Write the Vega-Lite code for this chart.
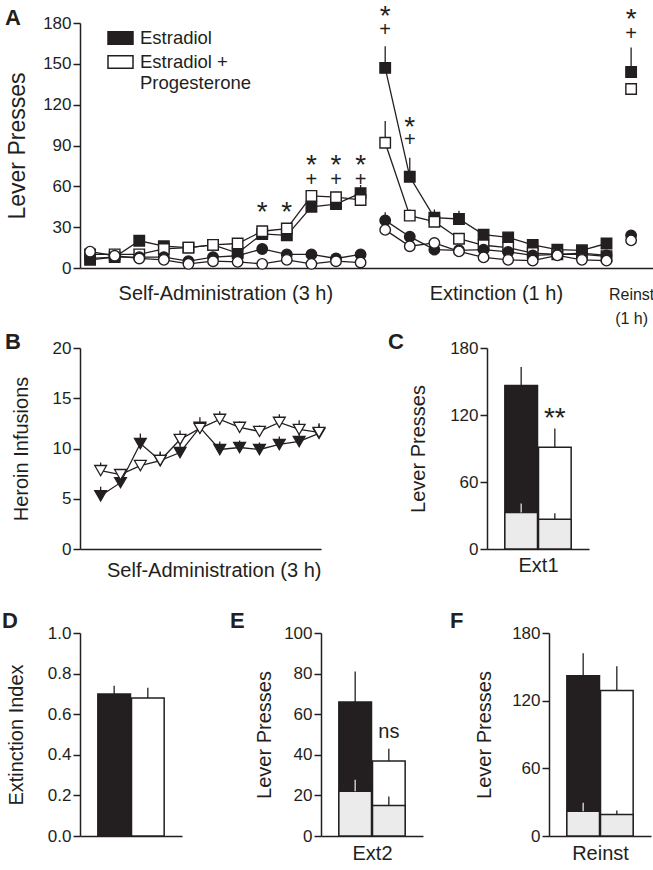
{
  "$schema": "https://vega.github.io/schema/vega-lite/v6.json",
  "padding": {"left": 2, "top": 3, "right": 0, "bottom": 0},
  "config": {
    "view": {"stroke": null},
    "font": "Liberation Sans",
    "axis": {"labelFont": "Liberation Sans", "labelFontSize": 17, "labelColor": "#231f20", "titleFont": "Liberation Sans", "titleFontSize": 20, "titleFontWeight": "normal", "titleColor": "#231f20", "domainColor": "#231f20", "domainWidth": 1.5, "tickColor": "#231f20", "tickWidth": 1.5, "tickSize": 7, "grid": false, "labelPadding": 2},
    "title": {"font": "Liberation Sans", "fontSize": 22, "fontWeight": "bold", "anchor": "start", "frame": "group", "baseline": "alphabetic", "color": "#231f20"},
    "legend": {"labelFont": "Liberation Sans"}
  },
  "datasets": {
    "a": [
      {"s":1,"g":"E","l":"a","p":"SA","v":6,"hi":7},{"s":2,"g":"E","l":"a","p":"SA","v":8,"hi":9},{"s":3,"g":"E","l":"a","p":"SA","v":20,"hi":23},{"s":4,"g":"E","l":"a","p":"SA","v":16,"hi":18},{"s":5,"g":"E","l":"a","p":"SA","v":15,"hi":17},{"s":6,"g":"E","l":"a","p":"SA","v":17,"hi":19},{"s":7,"g":"E","l":"a","p":"SA","v":11,"hi":14},{"s":8,"g":"E","l":"a","p":"SA","v":25,"hi":28},{"s":9,"g":"E","l":"a","p":"SA","v":24,"hi":27},{"s":10,"g":"E","l":"a","p":"SA","v":45,"hi":51},{"s":11,"g":"E","l":"a","p":"SA","v":47,"hi":52},{"s":12,"g":"E","l":"a","p":"SA","v":55,"hi":61},
      {"s":13,"g":"E","l":"a","p":"X","v":147,"hi":163},{"s":14,"g":"E","l":"a","p":"X","v":67,"hi":81},{"s":15,"g":"E","l":"a","p":"X","v":37,"hi":43},{"s":16,"g":"E","l":"a","p":"X","v":36,"hi":42},{"s":17,"g":"E","l":"a","p":"X","v":24.5,"hi":27},{"s":18,"g":"E","l":"a","p":"X","v":22.5,"hi":25},{"s":19,"g":"E","l":"a","p":"X","v":17,"hi":19},{"s":20,"g":"E","l":"a","p":"X","v":13.5,"hi":15.5},{"s":21,"g":"E","l":"a","p":"X","v":13,"hi":15},{"s":22,"g":"E","l":"a","p":"X","v":18,"hi":21},{"s":23,"g":"E","l":"a","p":"R","v":144,"hi":162},
      {"s":1,"g":"EP","l":"a","p":"SA","v":10,"hi":11},{"s":2,"g":"EP","l":"a","p":"SA","v":10,"hi":11},{"s":3,"g":"EP","l":"a","p":"SA","v":10,"hi":12},{"s":4,"g":"EP","l":"a","p":"SA","v":14,"hi":16},{"s":5,"g":"EP","l":"a","p":"SA","v":15,"hi":17},{"s":6,"g":"EP","l":"a","p":"SA","v":17,"hi":19},{"s":7,"g":"EP","l":"a","p":"SA","v":18,"hi":21},{"s":8,"g":"EP","l":"a","p":"SA","v":27,"hi":30},{"s":9,"g":"EP","l":"a","p":"SA","v":29,"hi":32},{"s":10,"g":"EP","l":"a","p":"SA","v":53,"hi":57},{"s":11,"g":"EP","l":"a","p":"SA","v":52,"hi":56},{"s":12,"g":"EP","l":"a","p":"SA","v":50,"hi":54},
      {"s":13,"g":"EP","l":"a","p":"X","v":92,"hi":108},{"s":14,"g":"EP","l":"a","p":"X","v":38.5,"hi":43},{"s":15,"g":"EP","l":"a","p":"X","v":34,"hi":37},{"s":16,"g":"EP","l":"a","p":"X","v":21.5,"hi":24},{"s":17,"g":"EP","l":"a","p":"X","v":16.7,"hi":19},{"s":18,"g":"EP","l":"a","p":"X","v":15,"hi":17},{"s":19,"g":"EP","l":"a","p":"X","v":11,"hi":13},{"s":20,"g":"EP","l":"a","p":"X","v":10,"hi":11.5},{"s":21,"g":"EP","l":"a","p":"X","v":10,"hi":11.5},{"s":22,"g":"EP","l":"a","p":"X","v":8.6,"hi":10},{"s":23,"g":"EP","l":"a","p":"R","v":131.5,"hi":134},
      {"s":1,"g":"E","l":"i","p":"SA","v":7,"hi":8},{"s":2,"g":"E","l":"i","p":"SA","v":8,"hi":9},{"s":3,"g":"E","l":"i","p":"SA","v":8,"hi":9},{"s":4,"g":"E","l":"i","p":"SA","v":8,"hi":9},{"s":5,"g":"E","l":"i","p":"SA","v":5,"hi":6},{"s":6,"g":"E","l":"i","p":"SA","v":8,"hi":9},{"s":7,"g":"E","l":"i","p":"SA","v":9,"hi":10},{"s":8,"g":"E","l":"i","p":"SA","v":14,"hi":18},{"s":9,"g":"E","l":"i","p":"SA","v":10,"hi":11},{"s":10,"g":"E","l":"i","p":"SA","v":10,"hi":11},{"s":11,"g":"E","l":"i","p":"SA","v":7,"hi":8},{"s":12,"g":"E","l":"i","p":"SA","v":10,"hi":11},
      {"s":13,"g":"E","l":"i","p":"X","v":35,"hi":41},{"s":14,"g":"E","l":"i","p":"X","v":23,"hi":26},{"s":15,"g":"E","l":"i","p":"X","v":13.5,"hi":15},{"s":16,"g":"E","l":"i","p":"X","v":13,"hi":14.5},{"s":17,"g":"E","l":"i","p":"X","v":13.5,"hi":15},{"s":18,"g":"E","l":"i","p":"X","v":11.8,"hi":13},{"s":19,"g":"E","l":"i","p":"X","v":9.3,"hi":10.5},{"s":20,"g":"E","l":"i","p":"X","v":10,"hi":11},{"s":21,"g":"E","l":"i","p":"X","v":11,"hi":12},{"s":22,"g":"E","l":"i","p":"X","v":9.3,"hi":10.5},{"s":23,"g":"E","l":"i","p":"R","v":24,"hi":27},
      {"s":1,"g":"EP","l":"i","p":"SA","v":12,"hi":13},{"s":2,"g":"EP","l":"i","p":"SA","v":9,"hi":10},{"s":3,"g":"EP","l":"i","p":"SA","v":7,"hi":8},{"s":4,"g":"EP","l":"i","p":"SA","v":6,"hi":7},{"s":5,"g":"EP","l":"i","p":"SA","v":3,"hi":4},{"s":6,"g":"EP","l":"i","p":"SA","v":5,"hi":6},{"s":7,"g":"EP","l":"i","p":"SA","v":4.5,"hi":5.5},{"s":8,"g":"EP","l":"i","p":"SA","v":3,"hi":4},{"s":9,"g":"EP","l":"i","p":"SA","v":6,"hi":7},{"s":10,"g":"EP","l":"i","p":"SA","v":3,"hi":4},{"s":11,"g":"EP","l":"i","p":"SA","v":5,"hi":6},{"s":12,"g":"EP","l":"i","p":"SA","v":4,"hi":5},
      {"s":13,"g":"EP","l":"i","p":"X","v":28,"hi":30},{"s":14,"g":"EP","l":"i","p":"X","v":16,"hi":17},{"s":15,"g":"EP","l":"i","p":"X","v":18.4,"hi":19.5},{"s":16,"g":"EP","l":"i","p":"X","v":12.2,"hi":13},{"s":17,"g":"EP","l":"i","p":"X","v":7.8,"hi":8.5},{"s":18,"g":"EP","l":"i","p":"X","v":6,"hi":7},{"s":19,"g":"EP","l":"i","p":"X","v":5.4,"hi":6},{"s":20,"g":"EP","l":"i","p":"X","v":9.3,"hi":10},{"s":21,"g":"EP","l":"i","p":"X","v":6,"hi":7},{"s":22,"g":"EP","l":"i","p":"X","v":5.4,"hi":6},{"s":23,"g":"EP","l":"i","p":"R","v":20.3,"hi":21}
    ],
    "ann": [
      {"s":8,"v":45,"t":"*"},{"s":9,"v":45,"t":"*"},
      {"s":10,"v":80,"t":"*"},{"s":10,"v":67,"t":"+"},
      {"s":11,"v":80,"t":"*"},{"s":11,"v":67,"t":"+"},
      {"s":12,"v":80,"t":"*"},{"s":12,"v":67,"t":"+"},
      {"s":13,"v":189,"t":"*"},{"s":13,"v":177,"t":"+"},
      {"s":14,"v":108,"t":"*"},{"s":14,"v":96,"t":"+"},
      {"s":23,"v":187,"t":"*"},{"s":23,"v":174,"t":"+"}
    ],
    "b": [
      {"s":1,"g":"E","v":5.3,"hi":6.2},{"s":2,"g":"E","v":6.6,"hi":7.3},{"s":3,"g":"E","v":10.5,"hi":11.5},{"s":4,"g":"E","v":8.8,"hi":9.7},{"s":5,"g":"E","v":9.6,"hi":10.4},{"s":6,"g":"E","v":12.1,"hi":13.1},{"s":7,"g":"E","v":9.9,"hi":10.7},{"s":8,"g":"E","v":10.1,"hi":10.8},{"s":9,"g":"E","v":9.9,"hi":10.6},{"s":10,"g":"E","v":10.4,"hi":11.2},{"s":11,"g":"E","v":10.7,"hi":11.6},{"s":12,"g":"E","v":11.5,"hi":12.5},
      {"s":1,"g":"EP","v":7.8,"hi":8.6},{"s":2,"g":"EP","v":7.4,"hi":7.9},{"s":3,"g":"EP","v":8.3,"hi":8.8},{"s":4,"g":"EP","v":8.8,"hi":9.6},{"s":5,"g":"EP","v":10.9,"hi":11.8},{"s":6,"g":"EP","v":12.0,"hi":12.6},{"s":7,"g":"EP","v":12.9,"hi":13.7},{"s":8,"g":"EP","v":12.1,"hi":12.7},{"s":9,"g":"EP","v":11.7,"hi":12.3},{"s":10,"g":"EP","v":12.6,"hi":13.4},{"s":11,"g":"EP","v":11.9,"hi":12.8},{"s":12,"g":"EP","v":11.6,"hi":12.4}
    ],
    "barsC": [
      {"g":"E","l":"a","v":146.5,"hi":163},{"g":"EP","l":"a","v":91.2,"hi":107.8},
      {"g":"E","l":"i","v":32.6,"hi":40.8},{"g":"EP","l":"i","v":26.6,"hi":32}
    ],
    "sigC": [{"g":"EP","v":122,"t":"**"}],
    "barsD": [{"g":"E","v":0.70,"hi":0.74},{"g":"EP","v":0.68,"hi":0.73}],
    "barsE": [
      {"g":"E","l":"a","v":66,"hi":81},{"g":"EP","l":"a","v":37,"hi":43},
      {"g":"E","l":"i","v":22,"hi":27.7},{"g":"EP","l":"i","v":15,"hi":19.5}
    ],
    "sigE": [{"g":"EP","v":51,"t":"ns"}],
    "barsF": [
      {"g":"E","l":"a","v":142,"hi":162},{"g":"EP","l":"a","v":129,"hi":150.5},
      {"g":"E","l":"i","v":22,"hi":29.4},{"g":"EP","l":"i","v":19,"hi":22.6}
    ]
  },
  "resolve": {"scale": {"x": "independent", "y": "independent", "fill": "independent", "shape": "independent", "color": "independent"}},
  "spacing": 3,
  "vconcat": [
    {
      "hconcat": [
        {
          "width": 573, "height": 245,
          "title": {"text": "A", "dx": -75, "offset": -27},
          "data": {"name": "a"},
          "encoding": {
            "x": {"field": "s", "type": "quantitative", "scale": {"domain": [0.59, 23.89], "nice": false, "zero": false},
                  "axis": {"title": null, "ticks": false, "values": [6.5, 17.5, 23], "labelExpr": "datum.value == 6.5 ? 'Self-Administration (3 h)' : datum.value == 17.5 ? 'Extinction (1 h)' : ['Reinst', '(1 h)']", "labelOverlap": false, "labelFlush": false, "labelBound": false, "labelLimit": 0, "labelFontSize": {"condition": {"test": "datum.value == 23", "value": 16}, "value": 20}, "labelPadding": 31.5, "labelBaseline": "alphabetic", "labelLineHeight": 24}},
            "y": {"field": "v", "type": "quantitative", "scale": {"domain": [0, 180], "nice": false},
                  "axis": {"title": "Lever Presses", "titleFontSize": 23, "values": [0, 30, 60, 90, 120, 150, 180], "titlePadding": 13}}
          },
          "layer": [
            {"transform": [{"filter": "datum.p != 'R'"}], "mark": {"type": "line", "color": "#231f20", "strokeWidth": 1.3}, "encoding": {"detail": [{"field": "g"}, {"field": "l"}, {"field": "p"}]}},
            {"mark": {"type": "rule", "color": "#231f20", "strokeWidth": 1.3}, "encoding": {"y2": {"field": "hi"}}},
            {"mark": {"type": "point", "filled": true, "stroke": "#231f20", "strokeWidth": 1.4, "size": 110, "opacity": 1},
             "encoding": {
               "shape": {"field": "l", "type": "nominal", "scale": {"domain": ["a", "i"], "range": ["square", "circle"]}, "legend": null},
               "fill": {"field": "g", "type": "nominal", "scale": {"domain": ["E", "EP"], "range": ["#231f20", "#ffffff"]},
                        "legend": {"orient": "none", "legendX": 27, "legendY": 1.5, "title": null, "padding": 0, "symbolType": "M-1,-0.5H1V0.5H-1Z", "symbolSize": 625, "symbolStrokeColor": "#231f20", "symbolStrokeWidth": 1.5, "labelFontSize": 18.5, "labelColor": "#231f20", "labelLimit": 0, "labelOffset": 6, "rowPadding": 1, "labelExpr": "datum.label == 'EP' ? ['Estradiol +', 'Progesterone'] : 'Estradiol'"}}
             }},
            {"data": {"name": "ann"}, "transform": [{"filter": "datum.t == '*'"}], "mark": {"type": "text", "fontSize": 28, "dy": 6.5, "color": "#231f20", "baseline": "middle"}, "encoding": {"text": {"field": "t"}}},
            {"data": {"name": "ann"}, "transform": [{"filter": "datum.t == '+'"}], "mark": {"type": "text", "fontSize": 20, "dy": 3, "color": "#231f20", "baseline": "middle"}, "encoding": {"text": {"field": "t"}}}
          ]
        }
      ]
    },
    {
      "spacing": 30,
      "resolve": {"scale": {"x": "independent", "y": "independent", "fill": "independent"}},
      "vconcat": [
        {
          "spacing": 60,
          "resolve": {"scale": {"x": "independent", "y": "independent", "fill": "independent"}},
          "hconcat": [
            {
              "width": 241, "height": 201,
              "title": {"text": "B", "dx": -75, "offset": -14.5},
              "data": {"name": "b"},
              "encoding": {
                "x": {"field": "s", "type": "quantitative", "scale": {"domain": [-0.04, 12.1], "nice": false, "zero": false},
                      "axis": {"title": "Self-Administration (3 h)", "titleAnchor": "end", "titleBaseline": "alphabetic", "titlePadding": 27, "ticks": false, "labels": false}},
                "y": {"field": "v", "type": "quantitative", "scale": {"domain": [0, 20], "nice": false},
                      "axis": {"title": "Heroin Infusions", "values": [0, 5, 10, 15, 20], "titlePadding": 21}}
              },
              "layer": [
                {"mark": {"type": "line", "color": "#231f20", "strokeWidth": 1.3}, "encoding": {"detail": {"field": "g"}}},
                {"mark": {"type": "rule", "color": "#231f20", "strokeWidth": 1.3}, "encoding": {"y2": {"field": "hi"}}},
                {"mark": {"type": "point", "shape": "triangle-down", "filled": true, "stroke": "#231f20", "strokeWidth": 1.3, "size": 140, "opacity": 1},
                 "encoding": {"fill": {"field": "g", "type": "nominal", "scale": {"domain": ["E", "EP"], "range": ["#231f20", "#ffffff"]}, "legend": null}}}
              ]
            },
            {
              "width": 102, "height": 201,
              "title": {"text": "C", "dx": -99, "offset": -14.5},
              "encoding": {
                "x": {"field": "g", "type": "nominal", "scale": {"domain": ["E", "EP"], "paddingInner": 0.03, "paddingOuter": 0.53},
                      "axis": {"title": "Ext1", "labels": false, "ticks": false, "titleBaseline": "alphabetic", "titlePadding": 22}}
              },
              "layer": [
                {"data": {"name": "barsC"}, "transform": [{"filter": "datum.l == 'a'"}], "mark": {"type": "bar", "stroke": "#231f20", "strokeWidth": 1.5},
                 "encoding": {"y": {"field": "v", "type": "quantitative", "scale": {"domain": [0, 180], "nice": false}, "axis": {"title": "Lever Presses", "values": [0, 60, 120, 180], "titlePadding": 21}},
                              "fill": {"field": "g", "type": "nominal", "scale": {"domain": ["E", "EP"], "range": ["#231f20", "#ffffff"]}, "legend": null}}},
                {"data": {"name": "barsC"}, "transform": [{"filter": "datum.l == 'a'"}], "mark": {"type": "rule", "color": "#231f20", "strokeWidth": 1.3},
                 "encoding": {"y": {"field": "v", "type": "quantitative"}, "y2": {"field": "hi"}}},
                {"data": {"name": "barsC"}, "transform": [{"filter": "datum.l == 'i'"}], "mark": {"type": "bar", "fill": "#ebebeb", "stroke": "#231f20", "strokeWidth": 1.5},
                 "encoding": {"y": {"field": "v", "type": "quantitative"}}},
                {"data": {"name": "barsC"}, "transform": [{"filter": "datum.l == 'i'"}], "mark": {"type": "rule", "strokeWidth": 1.3},
                 "encoding": {"y": {"field": "v", "type": "quantitative"}, "y2": {"field": "hi"}, "color": {"condition": {"test": "datum.g == 'E'", "value": "#e0e0e0"}, "value": "#231f20"}}},
                {"data": {"name": "sigC"}, "mark": {"type": "text", "fontSize": 28, "color": "#231f20", "baseline": "middle", "dy": 6.5},
                 "encoding": {"y": {"field": "v", "type": "quantitative"}, "text": {"field": "t"}}}
              ]
            }
          ]
        },
        {
          "spacing": 48,
          "resolve": {"scale": {"x": "independent", "y": "independent", "fill": "independent"}},
          "hconcat": [
            {
              "width": 102, "height": 203,
              "title": {"text": "D", "dx": -78, "offset": -9},
              "data": {"name": "barsD"},
              "encoding": {
                "x": {"field": "g", "type": "nominal", "scale": {"domain": ["E", "EP"], "paddingInner": 0.03, "paddingOuter": 0.53},
                      "axis": {"title": null, "labels": false, "ticks": false}}
              },
              "layer": [
                {"mark": {"type": "bar", "stroke": "#231f20", "strokeWidth": 1.5},
                 "encoding": {"y": {"field": "v", "type": "quantitative", "scale": {"domain": [0, 1], "nice": false}, "axis": {"title": "Extinction Index", "values": [0, 0.2, 0.4, 0.6, 0.8, 1.0], "format": ".1f", "titlePadding": 21}},
                              "fill": {"field": "g", "type": "nominal", "scale": {"domain": ["E", "EP"], "range": ["#231f20", "#ffffff"]}, "legend": null}}},
                {"mark": {"type": "rule", "color": "#231f20", "strokeWidth": 1.3},
                 "encoding": {"y": {"field": "v", "type": "quantitative"}, "y2": {"field": "hi"}}}
              ]
            },
            {
              "spacing": 27,
              "resolve": {"scale": {"x": "independent", "y": "independent", "fill": "independent"}},
              "hconcat": [
                {
                  "width": 102, "height": 203,
                  "title": {"text": "E", "dx": -91, "offset": -9},
                  "encoding": {
                    "x": {"field": "g", "type": "nominal", "scale": {"domain": ["E", "EP"], "paddingInner": 0.03, "paddingOuter": 0.53},
                          "axis": {"title": "Ext2", "labels": false, "ticks": false, "titleBaseline": "alphabetic", "titlePadding": 23}}
                  },
                  "layer": [
                    {"data": {"name": "barsE"}, "transform": [{"filter": "datum.l == 'a'"}], "mark": {"type": "bar", "stroke": "#231f20", "strokeWidth": 1.5},
                     "encoding": {"y": {"field": "v", "type": "quantitative", "scale": {"domain": [0, 100], "nice": false}, "axis": {"title": "Lever Presses", "values": [0, 20, 40, 60, 80, 100], "titlePadding": 9}},
                                  "fill": {"field": "g", "type": "nominal", "scale": {"domain": ["E", "EP"], "range": ["#231f20", "#ffffff"]}, "legend": null}}},
                    {"data": {"name": "barsE"}, "transform": [{"filter": "datum.l == 'a'"}], "mark": {"type": "rule", "color": "#231f20", "strokeWidth": 1.3},
                     "encoding": {"y": {"field": "v", "type": "quantitative"}, "y2": {"field": "hi"}}},
                    {"data": {"name": "barsE"}, "transform": [{"filter": "datum.l == 'i'"}], "mark": {"type": "bar", "fill": "#ebebeb", "stroke": "#231f20", "strokeWidth": 1.5},
                     "encoding": {"y": {"field": "v", "type": "quantitative"}}},
                    {"data": {"name": "barsE"}, "transform": [{"filter": "datum.l == 'i'"}], "mark": {"type": "rule", "strokeWidth": 1.3},
                     "encoding": {"y": {"field": "v", "type": "quantitative"}, "y2": {"field": "hi"}, "color": {"condition": {"test": "datum.g == 'E'", "value": "#e0e0e0"}, "value": "#231f20"}}},
                    {"data": {"name": "sigE"}, "mark": {"type": "text", "fontSize": 20, "color": "#231f20", "baseline": "middle"},
                     "encoding": {"y": {"field": "v", "type": "quantitative"}, "text": {"field": "t"}}}
                  ]
                },
                {
                  "width": 102, "height": 203,
                  "title": {"text": "F", "dx": -99, "offset": -9},
                  "encoding": {
                    "x": {"field": "g", "type": "nominal", "scale": {"domain": ["E", "EP"], "paddingInner": 0.03, "paddingOuter": 0.53},
                          "axis": {"title": "Reinst", "labels": false, "ticks": false, "titleBaseline": "alphabetic", "titlePadding": 23}}
                  },
                  "layer": [
                    {"data": {"name": "barsF"}, "transform": [{"filter": "datum.l == 'a'"}], "mark": {"type": "bar", "stroke": "#231f20", "strokeWidth": 1.5},
                     "encoding": {"y": {"field": "v", "type": "quantitative", "scale": {"domain": [0, 180], "nice": false}, "axis": {"title": "Lever Presses", "values": [0, 60, 120, 180], "titlePadding": 17}},
                                  "fill": {"field": "g", "type": "nominal", "scale": {"domain": ["E", "EP"], "range": ["#231f20", "#ffffff"]}, "legend": null}}},
                    {"data": {"name": "barsF"}, "transform": [{"filter": "datum.l == 'a'"}], "mark": {"type": "rule", "color": "#231f20", "strokeWidth": 1.3},
                     "encoding": {"y": {"field": "v", "type": "quantitative"}, "y2": {"field": "hi"}}},
                    {"data": {"name": "barsF"}, "transform": [{"filter": "datum.l == 'i'"}], "mark": {"type": "bar", "fill": "#ebebeb", "stroke": "#231f20", "strokeWidth": 1.5},
                     "encoding": {"y": {"field": "v", "type": "quantitative"}}},
                    {"data": {"name": "barsF"}, "transform": [{"filter": "datum.l == 'i'"}], "mark": {"type": "rule", "strokeWidth": 1.3},
                     "encoding": {"y": {"field": "v", "type": "quantitative"}, "y2": {"field": "hi"}, "color": {"condition": {"test": "datum.g == 'E'", "value": "#e0e0e0"}, "value": "#231f20"}}}
                  ]
                }
              ]
            }
          ]
        }
      ]
    }
  ]
}
